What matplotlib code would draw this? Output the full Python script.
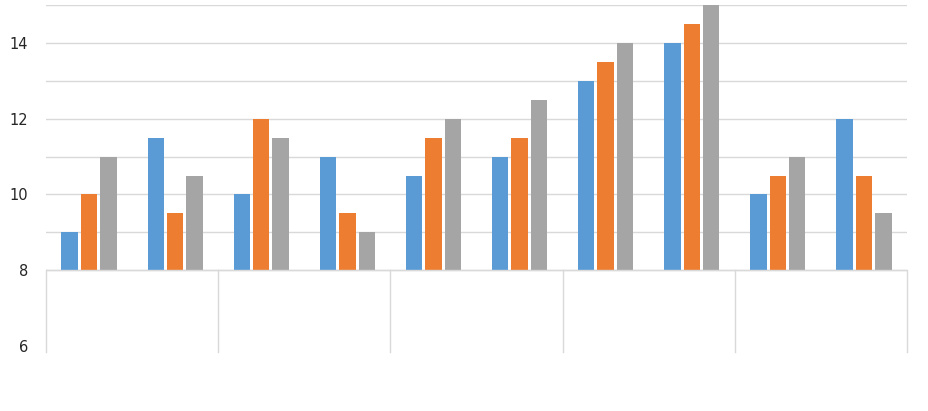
import matplotlib.pyplot as plt
import numpy as np

# valores
categorias = list(range(10))
serie_azul = [9, 11.5, 10, 11, 10.5, 11, 13, 14, 10, 12]
serie_naranja = [10, 9.5, 12, 9.5, 11.5, 11.5, 13.5, 14.5, 10.5, 10.5]
serie_gris = [11, 10.5, 11.5, 9, 12, 12.5, 14, 15, 11, 9.5]
ticks_y = [6, 8, 10, 12, 14]
base = 8

fig = plt.figure(figsize=(9.29, 4.11), dpi=100)
ax = fig.add_axes([46 / 929, 1 - 346 / 411, (907 - 46) / 929, (346 - 5) / 411])

x = np.array(categorias) + 0.5
ancho = 0.19
sep = 0.225
for desp, valores, color in [(-sep, serie_azul, '#5b9bd5'),
                             (0, serie_naranja, '#ed7d31'),
                             (sep, serie_gris, '#a5a5a5')]:
    alturas = np.array(valores) - base
    ax.bar(x + desp, alturas, width=ancho, bottom=base, color=color, zorder=3)

# lineas de cuadricula solo encima del eje
for g in range(8, 16):
    ax.axhline(g, color='#d9d9d9', lw=1, zorder=1)
ax.axhline(base, color='#d9d9d9', lw=1, zorder=4)

# separadores de grupo debajo del eje
for xs in [0, 2, 4, 6, 8, 10]:
    ax.plot([xs, xs], [5.84, base], color='#d9d9d9', lw=1, clip_on=False, zorder=1)

ax.set_xlim(0, 10)
ax.set_ylim(6, 15)
ax.set_xticks([])
ax.set_yticks(ticks_y)
ax.set_yticklabels([str(t) for t in ticks_y], fontsize=10.5, color='#262626')
ax.tick_params(axis='y', length=0, pad=13)
for s in ax.spines.values():
    s.set_visible(False)

fig.savefig('out.png', dpi=100)
